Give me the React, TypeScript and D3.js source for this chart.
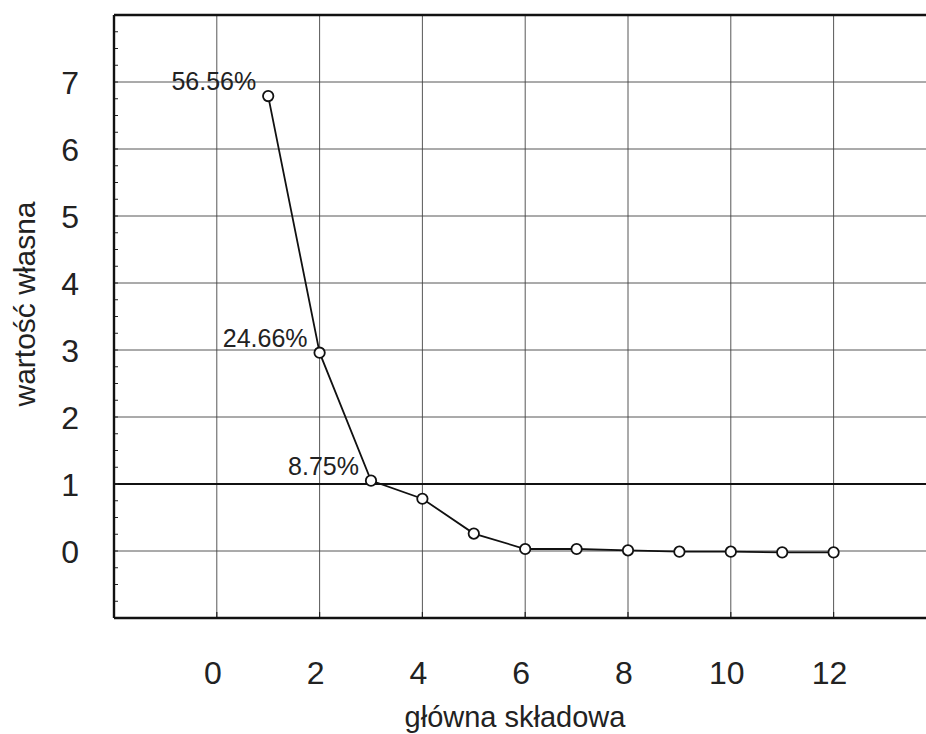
import { useEffect, useRef } from 'react';
import * as d3 from 'd3';

// eigenvalues of the 12 principal components (scree plot)
const components = [1, 2, 3, 4, 5, 6, 7, 8, 9, 10, 11, 12];
const eigenvalues = [6.79, 2.96, 1.05, 0.78, 0.26, 0.03, 0.03, 0.01, -0.01, -0.01, -0.02, -0.02];
const pctLabels = ['56.56%', '24.66%', '8.75%'];
const xTicks = [0, 2, 4, 6, 8, 10, 12];
const yTicks = [0, 1, 2, 3, 4, 5, 6, 7];

const W = 926;
const H = 734;
const FONT = '"Liberation Sans", Arial, sans-serif';

const App = () => {
  const svgRef = useRef<SVGSVGElement>(null);

  useEffect(() => {
    if (!svgRef.current) return;
    const svg = d3.select(svgRef.current);
    svg.selectAll('*').remove();

    const left = 114, top = 15, bottom = 618;
    const x = d3.scaleLinear().domain([-2, 14]).range([left, left + 16 * 51.4]);
    const y = d3.scaleLinear().domain([-1, 8]).range([bottom, top]);

    const g = svg.append('g');

    // vertical grid
    g.selectAll('line.vgrid')
      .data(xTicks)
      .enter()
      .append('line')
      .attr('x1', d => x(d)).attr('x2', d => x(d))
      .attr('y1', top).attr('y2', bottom)
      .attr('stroke', '#444').attr('stroke-width', 0.9);

    // horizontal grid, the eigenvalue = 1 line drawn heavier
    g.selectAll('line.hgrid')
      .data(yTicks)
      .enter()
      .append('line')
      .attr('x1', left).attr('x2', W)
      .attr('y1', d => y(d)).attr('y2', d => y(d))
      .attr('stroke', d => (d === 1 ? '#111' : '#444'))
      .attr('stroke-width', d => (d === 1 ? 1.8 : 0.9));

    // minor ticks on left edge (inside)
    g.selectAll('line.ytick')
      .data(d3.range(-1, 8.001, 0.25))
      .enter()
      .append('line')
      .attr('x1', left).attr('x2', left + 4)
      .attr('y1', d => y(d)).attr('y2', d => y(d))
      .attr('stroke', '#222').attr('stroke-width', 1);

    // ticks on bottom edge
    g.selectAll('line.xtick')
      .data(xTicks)
      .enter()
      .append('line')
      .attr('x1', d => x(d)).attr('x2', d => x(d))
      .attr('y1', bottom).attr('y2', bottom - 6)
      .attr('stroke', '#222').attr('stroke-width', 1.2);

    // frame
    g.append('line').attr('x1', left).attr('x2', W).attr('y1', top).attr('y2', top)
      .attr('stroke', '#111').attr('stroke-width', 2.4);
    g.append('line').attr('x1', left).attr('x2', W).attr('y1', bottom).attr('y2', bottom)
      .attr('stroke', '#111').attr('stroke-width', 2.4);
    g.append('line').attr('x1', left).attr('x2', left).attr('y1', top).attr('y2', bottom)
      .attr('stroke', '#111').attr('stroke-width', 2.4);

    // series line
    const pts = components.map((c, i) => [c, eigenvalues[i]] as [number, number]);
    const line = d3.line<[number, number]>().x(d => x(d[0])).y(d => y(d[1]));
    g.append('path')
      .datum(pts)
      .attr('d', line)
      .attr('fill', 'none')
      .attr('stroke', '#111')
      .attr('stroke-width', 1.8);

    g.selectAll('circle.pt')
      .data(pts)
      .enter()
      .append('circle')
      .attr('cx', d => x(d[0]))
      .attr('cy', d => y(d[1]))
      .attr('r', 5.2)
      .attr('fill', 'white')
      .attr('stroke', '#111')
      .attr('stroke-width', 1.8);

    // percentage labels
    g.selectAll('text.pct')
      .data(pctLabels)
      .enter()
      .append('text')
      .attr('x', (_, i) => x(pts[i][0]) - 12)
      .attr('y', (_, i) => y(pts[i][1]) - 6)
      .attr('text-anchor', 'end')
      .attr('font-family', FONT)
      .attr('font-size', 25)
      .attr('fill', '#222')
      .text(d => d);

    // x tick labels
    g.selectAll('text.xl')
      .data(xTicks)
      .enter()
      .append('text')
      .attr('x', d => x(d) - 4)
      .attr('y', 684)
      .attr('text-anchor', 'middle')
      .attr('font-family', FONT)
      .attr('font-size', 32)
      .attr('fill', '#222')
      .text(d => d);

    // y tick labels
    g.selectAll('text.yl')
      .data(yTicks)
      .enter()
      .append('text')
      .attr('x', 79)
      .attr('y', d => y(d))
      .attr('dy', '0.36em')
      .attr('text-anchor', 'end')
      .attr('font-family', FONT)
      .attr('font-size', 32)
      .attr('fill', '#222')
      .text(d => d);

    // axis titles
    g.append('text')
      .attr('x', 515)
      .attr('y', 727)
      .attr('text-anchor', 'middle')
      .attr('font-family', FONT)
      .attr('font-size', 29)
      .attr('fill', '#222')
      .text('główna składowa');

    g.append('text')
      .attr('transform', 'translate(35,304) rotate(-90)')
      .attr('text-anchor', 'middle')
      .attr('font-family', FONT)
      .attr('font-size', 30)
      .attr('fill', '#222')
      .text('wartość własna');
  }, []);

  return (
    <svg
      ref={svgRef}
      width={W}
      height={H}
      style={{ position: 'absolute', left: 0, top: 0, background: 'white' }}
    />
  );
};

export default App;
